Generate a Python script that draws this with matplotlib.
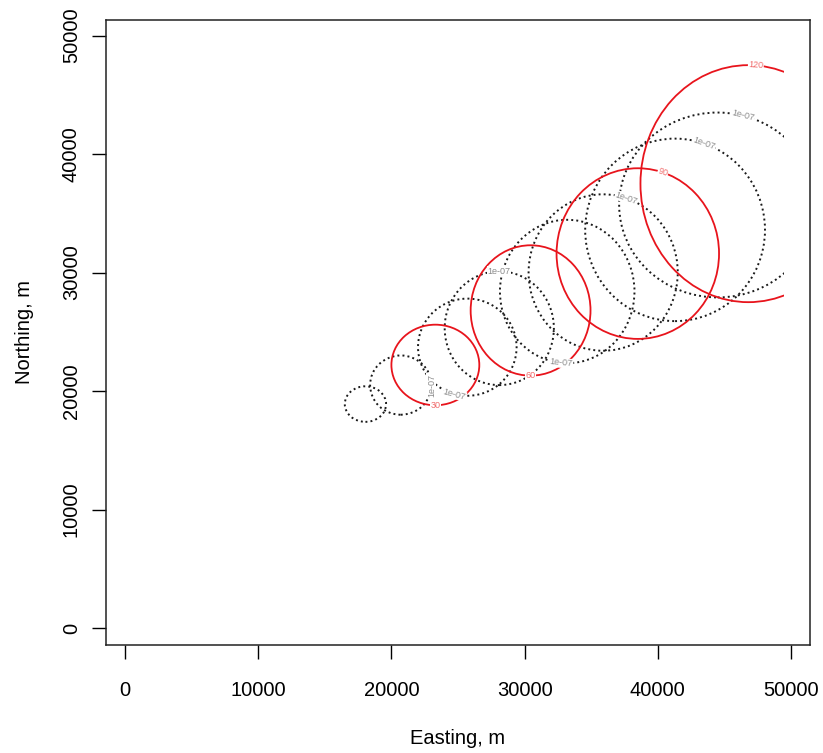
import numpy as np
import matplotlib
matplotlib.use("Agg")
import matplotlib.pyplot as plt
from matplotlib.patches import Ellipse, Rectangle

plt.rcParams['font.family'] = ['Liberation Sans', 'DejaVu Sans']

# puff contours, one per time step (minutes); centre and half-widths in metres
times = [10, 20, 30, 40, 50, 60, 70, 80, 90, 100, 110, 120]
cx = [18050, 20700, 23300, 25700, 28100, 30450, 33200, 35900, 38500, 41300, 44500, 46800]
cy = [18900, 20500, 22200, 23700, 25300, 26800, 28400, 30000, 31600, 33600, 35700, 37500]
rx = [1550, 2300, 3300, 3700, 4100, 4500, 5050, 5600, 6100, 6750, 7400, 8100]
ry = [1500, 2500, 3400, 4100, 4800, 5500, 6050, 6600, 7200, 7700, 7800, 10000]
red_times = [30, 60, 90, 120]
level_label = "1e-07"
# where the contour label sits on each ring (degrees, None = no label)
label_at = [None, 0, 270, 255, 90, 270, 265, 72, 72, 71, 75, 86]

grid_max = 49500
ticks = [0, 10000, 20000, 30000, 40000, 50000]

fig = plt.figure(figsize=(8.23, 7.53), dpi=100)
ax = fig.add_axes([106/823, 108/753, 704/823, 625/753])
ax.set_xlim(-1430, 51430)
ax.set_ylim(-1430, 51310)

clip = Rectangle((0, 0), grid_max, grid_max, transform=ax.transData)

for i, t in enumerate(times):
    if t in red_times:
        e = Ellipse((cx[i], cy[i]), 2*rx[i], 2*ry[i], fill=False,
                    edgecolor='#e8141c', lw=1.3, zorder=3)
    else:
        e = Ellipse((cx[i], cy[i]), 2*rx[i], 2*ry[i], fill=False,
                    edgecolor='#1a1a1a', lw=1.4, linestyle=(0, (1, 1.6)), zorder=2)
    ax.add_patch(e)
    e.set_clip_path(clip)

    a = label_at[i]
    if a is None:
        continue
    th = np.radians(a)
    lx = cx[i] + rx[i]*np.cos(th)
    ly = cy[i] + ry[i]*np.sin(th)
    # rotate label along the ring
    p0 = ax.transData.transform((lx, ly))
    p1 = ax.transData.transform((lx - rx[i]*np.sin(th)*0.01, ly + ry[i]*np.cos(th)*0.01))
    rot = np.degrees(np.arctan2(p1[1]-p0[1], p1[0]-p0[0]))
    if rot > 90:
        rot -= 180
    if rot < -90:
        rot += 180
    if t in red_times:
        txt, col = str(t), '#f06a6a'
    else:
        txt, col = level_label, '#8a8a8a'
    ax.text(lx, ly, txt, fontsize=6.5, color=col, ha='center', va='center',
            rotation=rot, rotation_mode='anchor', zorder=5,
            bbox=dict(boxstyle='square,pad=0.05', fc='white', ec='none'))

ax.set_xticks(ticks)
ax.set_yticks(ticks)
ax.set_xticklabels([str(v) for v in ticks])
ax.set_yticklabels([str(v) for v in ticks], rotation=90, va='center')
ax.tick_params(axis='x', length=10, width=1, pad=16, labelsize=14.5)
ax.tick_params(axis='y', length=10, width=1, pad=8, labelsize=14.5)
for s in ax.spines.values():
    s.set_linewidth(1.1)
    s.set_color('#222222')

fig.text(458/823, 1 - 738/753, 'Easting, m', ha='center', va='center', fontsize=14.5)
fig.text(24/823, 1 - 332/753, 'Northing, m', ha='center', va='center',
         rotation=90, fontsize=14.5)

fig.savefig('out.png', dpi=100)
